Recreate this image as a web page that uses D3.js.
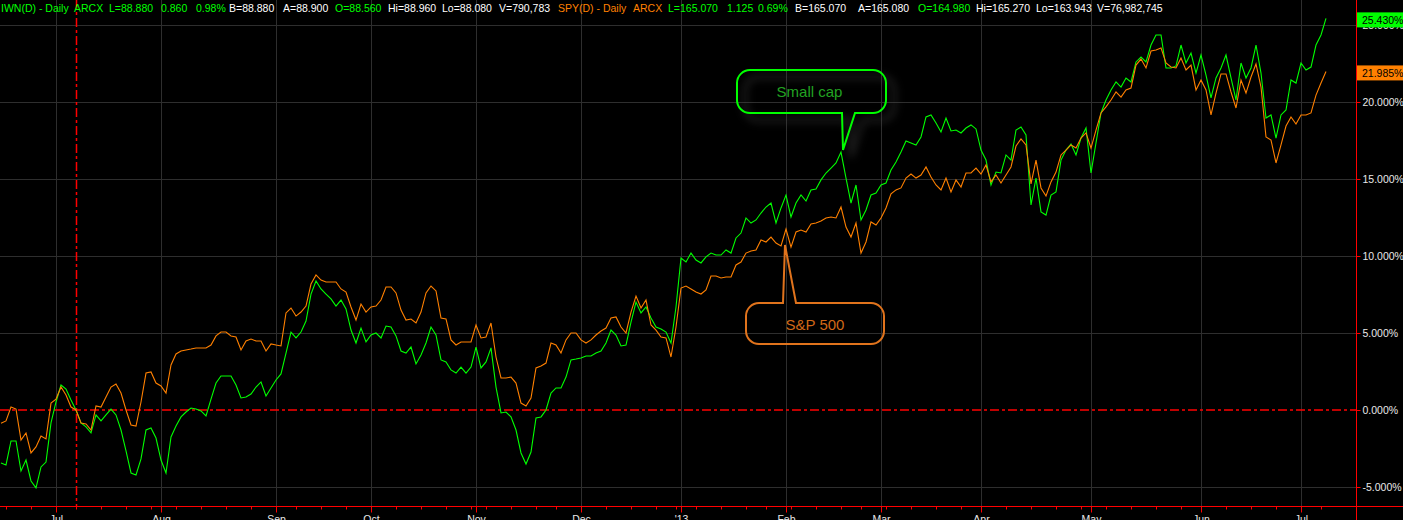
<!DOCTYPE html>
<html><head><meta charset="utf-8">
<script src="https://cdn.jsdelivr.net/npm/d3@7/dist/d3.min.js"></script>
<style>html,body{margin:0;padding:0;background:#000;overflow:hidden}svg{display:block}</style>
</head><body><svg id="c" width="1403" height="520"></svg>
<script>
// ---------------- DATA ----------------
const startDate = "2012-06-15";
const endDate = "2013-07-09";
const referenceDate = "2012-07-09";
const holidays = ["2012-07-04","2012-09-03","2012-10-29","2012-10-30","2012-11-22","2012-12-25",
  "2013-01-01","2013-01-21","2013-02-18","2013-03-29","2013-05-27","2013-07-04"];

// SPY % change since reference date (orange)
const spyPct = [
 -0.86,-0.71,0.19,0.06,-1.95,-1.49,-2.79,-2.40,-1.69,-1.88,
 0.45,0.71,1.49,0.97,0.19,0.00,-0.84,-0.91,-1.30,0.26,
 0.19,0.84,1.49,1.69,1.10,0.00,-0.97,-1.04,0.52,2.40,
 2.47,1.75,1.56,1.10,2.92,3.64,3.83,3.90,3.96,4.03,
 4.03,4.03,4.22,4.81,5.06,5.06,4.81,4.74,3.90,4.48,
 4.61,4.48,4.48,3.83,4.29,4.22,4.16,6.30,6.62,6.10,
 6.36,6.75,8.18,8.77,8.44,8.31,8.31,8.31,7.86,7.66,
 6.69,5.84,6.88,6.36,6.69,6.75,7.14,7.99,7.99,7.60,
 6.49,5.84,5.91,5.65,6.36,7.60,8.05,7.73,5.97,5.91,
 4.55,4.22,4.42,4.42,4.42,5.52,4.68,4.74,5.65,3.44,
 2.08,2.08,2.14,1.75,0.45,0.26,0.78,2.73,2.86,3.05,
 4.35,4.22,3.70,4.55,5.00,5.00,4.55,4.35,4.55,4.87,
 5.13,5.32,5.97,6.04,5.39,5.00,6.36,7.40,6.62,7.14,
 5.52,5.19,4.74,4.68,3.44,5.39,7.92,8.05,7.86,7.66,
 7.53,7.79,8.70,8.70,8.57,8.64,8.64,9.42,9.61,10.19,
 10.32,10.39,11.04,10.91,11.23,10.84,10.65,11.75,10.58,11.56,
 11.69,11.56,12.08,12.14,12.27,12.47,12.53,12.47,13.18,11.88,
 11.23,12.14,10.19,10.91,12.21,12.01,12.47,13.12,14.03,14.29,
 14.42,15.06,15.32,15.06,15.26,15.78,15.13,14.61,14.29,15.06,
 14.16,14.94,14.48,15.39,15.39,15.71,15.32,15.91,14.81,15.26,
 14.74,15.26,15.78,17.14,17.60,17.21,14.68,16.23,14.42,13.90,
 14.81,15.45,16.56,16.88,17.21,17.01,17.66,17.99,17.01,18.18,
 19.29,19.68,20.13,20.65,20.32,20.78,20.91,22.40,22.79,22.21,
 23.31,23.38,23.51,22.53,22.27,22.21,22.86,22.08,22.40,20.78,
 21.43,20.78,19.16,20.58,21.82,21.82,20.65,19.61,21.43,20.58,
 21.62,22.47,20.97,17.73,17.53,16.04,17.21,18.44,19.03,18.57,
 19.16,19.16,19.29,20.45,21.23,21.985
];

// IWN % change since reference date (green)
const iwnPct = [
 -3.44,-3.57,-2.01,-2.01,-3.96,-3.25,-4.61,-5.06,-3.70,-3.38,
 -0.84,0.52,1.62,1.36,0.65,0.00,-0.84,-1.10,-1.49,-0.32,
 -0.71,-0.32,0.06,-0.32,-1.30,-2.66,-4.09,-4.22,-3.18,-1.30,
 -1.17,-1.82,-3.25,-4.09,-1.75,-1.04,-0.45,-0.13,0.13,0.06,
 -0.06,-0.39,0.71,1.75,2.21,2.21,2.21,1.62,0.78,0.84,
 1.04,1.49,1.82,0.91,1.43,1.95,2.34,3.70,5.06,4.68,
 5.06,5.78,7.53,8.38,7.86,7.53,7.21,6.75,7.14,6.56,
 5.19,4.35,5.32,4.42,4.87,5.00,4.68,5.45,5.39,4.81,
 3.83,3.70,4.09,2.99,3.57,4.35,5.39,4.87,3.25,3.12,
 2.60,2.40,2.79,2.40,2.79,4.09,2.73,3.12,4.03,1.49,
 -0.19,-0.13,-0.45,-1.30,-2.79,-3.51,-2.73,-0.52,-0.45,0.00,
 1.10,1.43,1.43,2.14,3.25,3.31,3.38,3.51,3.51,3.70,
 3.83,4.35,5.19,4.87,4.16,4.22,5.71,7.01,6.30,6.69,
 5.97,5.39,5.26,5.06,4.35,6.69,9.87,9.61,10.19,9.74,
 9.55,9.94,10.19,10.06,10.06,10.39,10.19,11.17,11.49,12.47,
 12.14,12.34,12.79,13.18,13.44,12.14,13.12,13.96,12.53,13.44,
 13.96,13.57,14.29,14.35,14.94,15.39,15.71,16.04,16.75,15.06,
 13.44,14.61,12.34,12.99,13.96,14.09,14.61,14.74,15.58,16.10,
 16.75,17.47,17.34,17.21,17.73,19.03,19.16,18.64,18.05,18.96,
 18.12,18.18,17.99,18.31,18.51,18.25,16.88,16.23,14.61,15.45,
 15.39,16.56,16.23,18.18,18.38,17.86,13.31,15.06,12.86,12.66,
 13.96,14.16,16.23,16.88,17.27,16.56,17.66,18.31,15.39,17.34,
 19.29,20.13,20.78,21.30,20.97,21.56,21.30,22.60,22.92,22.60,
 23.70,24.35,24.35,22.21,22.21,22.34,23.70,22.53,23.18,21.88,
 23.05,21.75,20.26,21.56,22.21,23.05,21.56,20.13,22.53,21.56,
 22.21,23.70,21.88,18.96,19.16,17.66,19.16,19.48,21.43,21.23,
 22.53,22.08,22.27,23.70,24.35,25.43
];

const yTicks = [-5, 0, 5, 10, 15, 20, 25];
const lastLabels = ["25.430%", "21.985%"];

const headerText = ["IWN(D) - Daily","ARCX","L=88.880","0.860","0.98%","B=88.880","A=88.900","O=88.560",
  "Hi=88.960","Lo=88.080","V=790,783","SPY(D) - Daily","ARCX","L=165.070","1.125","0.69%",
  "B=165.070","A=165.080","O=164.980","Hi=165.270","Lo=163.943","V=76,982,745"];

const calloutText = ["Small cap", "S&P 500"];
const calloutIndex = [168, 157];
const calloutValue = [16.88, 10.71];

// ---------------- LAYOUT / STYLE ----------------
const headerX = [1,74,109,161,196,229,283,335,388,442,499,558,633,668,727,758,795,858,918,976,1036,1097];
const headerColor = ["#00ff00","#00ff00","#00ff00","#00ff00","#00ff00","#ffffff","#ffffff","#00ff00",
  "#ffffff","#ffffff","#ffffff","#ff8000","#ff8000","#00ff00","#00ff00","#00ff00",
  "#ffffff","#ffffff","#00ff00","#ffffff","#ffffff","#ffffff"];
const GREEN = "#00ff00", ORANGE = "#ff8000", RED = "#ff0000", GRID = "#2e2e2e";
const FONT = "'Liberation Sans', Arial, sans-serif";
const plotRight = 1356.5, axisY = 506.5;

// ---------------- BUILD DATES ----------------
const parse = d3.timeParse("%Y-%m-%d"), fmt = d3.timeFormat("%Y-%m-%d");
const hol = new Set(holidays);
const dates = d3.timeDay.range(parse(startDate), d3.timeDay.offset(parse(endDate), 1))
  .filter(d => d.getDay() !== 0 && d.getDay() !== 6 && !hol.has(fmt(d)));
const N = dates.length;
const refIndex = dates.findIndex(d => fmt(d) === referenceDate);

const monthIdx = [], weekIdx = [];
dates.forEach((d, i) => {
  if (i === 0) return;
  const p = dates[i - 1];
  if (d.getMonth() !== p.getMonth()) monthIdx.push(i);
  else if (+d3.timeMonday.floor(d) !== +d3.timeMonday.floor(p)) weekIdx.push(i);
});
const monthLabel = i => dates[i].getMonth() === 0 ? "'" + d3.timeFormat("%y")(dates[i]) : d3.timeFormat("%b")(dates[i]);

// ---------------- SCALES ----------------
const x = d3.scaleLinear().domain([0, N - 1]).range([1, 1326]);
const y = d3.scaleLinear().domain([-6.234, 26.623]).range([506, 0]);

const svg = d3.select("#c");
svg.append("rect").attr("width", 1403).attr("height", 520).attr("fill", "#000");

const defs = svg.append("defs");
defs.append("clipPath").attr("id", "plotclip").append("rect")
  .attr("x", 0).attr("y", 0).attr("width", plotRight).attr("height", axisY);
const f = defs.append("filter").attr("id", "shadow").attr("x", "-20%").attr("y", "-20%").attr("width", "140%").attr("height", "160%");
f.append("feGaussianBlur").attr("stdDeviation", 4);

// grid
const grid = svg.append("g");
grid.selectAll(".vg").data(monthIdx).join("line")
  .attr("x1", i => Math.round(x(i)) + 0.5).attr("x2", i => Math.round(x(i)) + 0.5)
  .attr("y1", 0).attr("y2", axisY).attr("stroke", GRID).attr("stroke-width", 1);
grid.selectAll(".hg").data(yTicks.filter(t => t !== 0)).join("line")
  .attr("x1", 0).attr("x2", plotRight)
  .attr("y1", t => Math.round(y(t)) + 0.5).attr("y2", t => Math.round(y(t)) + 0.5)
  .attr("stroke", GRID).attr("stroke-width", 1);

// reference dash-dot lines
svg.append("line").attr("x1", 0).attr("x2", plotRight).attr("y1", y(0)).attr("y2", y(0))
  .attr("stroke", RED).attr("stroke-width", 1.5).attr("stroke-dasharray", "9,3,3,3");
svg.append("line").attr("x1", Math.round(x(refIndex)) + 0.5).attr("x2", Math.round(x(refIndex)) + 0.5)
  .attr("y1", 0).attr("y2", axisY)
  .attr("stroke", RED).attr("stroke-width", 1.5).attr("stroke-dasharray", "9,3,3,3");

// series
const line = d3.line().x((d, i) => x(i)).y(d => y(d));
const plot = svg.append("g").attr("clip-path", "url(#plotclip)");
plot.append("path").datum(iwnPct).attr("d", line).attr("fill", "none").attr("stroke", GREEN).attr("stroke-width", 1.1);
plot.append("path").datum(spyPct).attr("d", line).attr("fill", "none").attr("stroke", ORANGE).attr("stroke-width", 1.1);

// callouts
function calloutPath(x0, y0, x1, y1, r, side, b0, b1, tx, ty) {
  let p = `M${x0 + r},${y0}`;
  if (side === "top") p += `H${b0}L${tx},${ty}L${b1},${y0}`;
  p += `H${x1 - r}A${r},${r} 0 0 1 ${x1},${y0 + r}V${y1 - r}A${r},${r} 0 0 1 ${x1 - r},${y1}`;
  if (side === "bottom") p += `H${b1}L${tx},${ty}L${b0},${y1}`;
  p += `H${x0 + r}A${r},${r} 0 0 1 ${x0},${y1 - r}V${y0 + r}A${r},${r} 0 0 1 ${x0 + r},${y0}Z`;
  return p;
}
// Small cap
{
  const tx = x(calloutIndex[0]) + 2, ty = y(calloutValue[0]);
  const x0 = tx - 106, x1 = tx + 43, y0 = ty - 80, y1 = ty - 37;
  const d = calloutPath(x0, y0, x1, y1, 13, "bottom", tx - 1, tx + 12, tx, ty);
  svg.append("path").attr("d", d).attr("transform", "translate(8,7)").attr("fill", "none")
    .attr("stroke", "#555").attr("stroke-width", 5).attr("opacity", 0.35).attr("filter", "url(#shadow)");
  svg.append("path").attr("d", d).attr("fill", "none").attr("stroke", GREEN).attr("stroke-width", 2);
  svg.append("text").attr("x", (x0 + x1) / 2 - 2).attr("y", (y0 + y1) / 2 + 5).attr("text-anchor", "middle")
    .attr("font-family", FONT).attr("font-size", 15).attr("fill", "#22a322").text(calloutText[0]);
}
// S&P 500
{
  const tx = x(calloutIndex[1]) - 1, ty = y(calloutValue[1]);
  const x0 = tx - 39, x1 = tx + 99, y0 = ty + 58, y1 = ty + 99;
  const d = calloutPath(x0, y0, x1, y1, 13, "top", tx - 2, tx + 11, tx, ty);
  svg.append("path").attr("d", d).attr("fill", "none").attr("stroke", "#e0731c").attr("stroke-width", 2);
  svg.append("text").attr("x", (x0 + x1) / 2).attr("y", (y0 + y1) / 2 + 6).attr("text-anchor", "middle")
    .attr("font-family", FONT).attr("font-size", 15).attr("fill", "#d06818").text(calloutText[1]);
}

// axes
const yAxis = d3.axisRight(y).tickValues(yTicks).tickSize(4).tickPadding(2)
  .tickFormat(d => d.toFixed(3) + "%");
const gy = svg.append("g").attr("transform", `translate(${plotRight},0)`).call(yAxis);
gy.select(".domain").remove();
gy.selectAll("line").attr("stroke", RED);
gy.selectAll("text").attr("fill", "#e8e8e8").attr("font-family", FONT).attr("font-size", 10.5);

const xAxis = d3.axisBottom(x).tickValues(monthIdx).tickSize(6).tickPadding(3).tickFormat(monthLabel);
const gx = svg.append("g").attr("transform", `translate(0,${axisY})`).call(xAxis);
gx.select(".domain").remove();
gx.selectAll(".tick").attr("transform", i => `translate(${Math.round(x(i)) + 0.5},0)`);
gx.selectAll("line").attr("stroke", RED);
gx.selectAll("text").attr("fill", "#e8e8e8").attr("font-family", FONT).attr("font-size", 10.5);
const gxm = svg.append("g").attr("transform", `translate(0,${axisY})`)
  .call(d3.axisBottom(x).tickValues(weekIdx).tickSize(3).tickFormat(""));
gxm.select(".domain").remove();
gxm.selectAll(".tick").attr("transform", i => `translate(${Math.round(x(i)) + 0.5},0)`);
gxm.selectAll("line").attr("stroke", RED);

svg.append("line").attr("x1", 0).attr("x2", 1403).attr("y1", axisY).attr("y2", axisY).attr("stroke", RED);
svg.append("line").attr("x1", plotRight).attr("x2", plotRight).attr("y1", 0).attr("y2", 520).attr("stroke", RED);

// last value tags
const lastVals = [iwnPct[N - 1], spyPct[N - 1]];
const tagColors = [GREEN, ORANGE];
lastVals.forEach((v, k) => {
  const cy = y(v) + 1.5;
  svg.append("rect").attr("x", plotRight + 0.5).attr("y", cy - 7.5).attr("width", 50).attr("height", 15).attr("fill", tagColors[k]);
  svg.append("text").attr("x", 1362).attr("y", cy + 4).attr("font-family", FONT).attr("font-size", 10.5)
    .attr("fill", "#000").text(lastLabels[k]);
});

// header
svg.append("g").selectAll("text").data(headerText).join("text")
  .attr("x", (d, i) => headerX[i]).attr("y", 12)
  .attr("font-family", FONT).attr("font-size", 10.5)
  .attr("fill", (d, i) => headerColor[i]).text(d => d);
</script>
</body></html>
